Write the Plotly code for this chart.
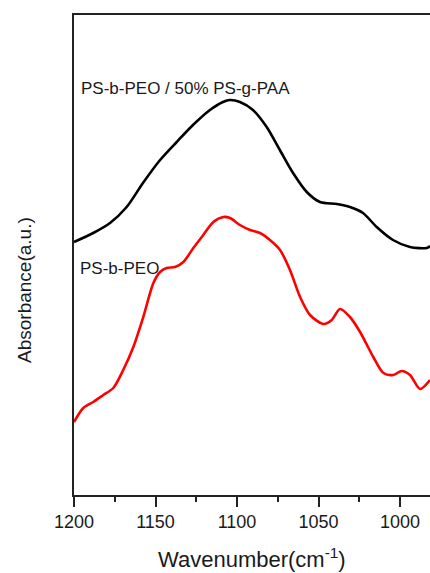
import plotly.graph_objects as go

# Wavenumber (cm^-1) and absorbance (arbitrary units)
blend_wn = [1200, 1188.2, 1177.9, 1167.7, 1157.7, 1147.2, 1137.0, 1127.0, 1116.6, 1108.6,
            1104.3, 1098.2, 1090.2, 1081.8, 1073.7, 1065.6, 1057.2, 1049.1, 1038.8, 1030.7,
            1022.7, 1014.3, 1004.3, 993.9, 983.6, 981.6]
blend_abs = [253, 262, 272, 288, 312, 335, 353, 370, 385, 393,
             395, 393, 385, 368, 345, 322, 303, 293, 291, 288,
             282, 268, 255, 248, 247, 249]

peo_wn = [1200, 1194.3, 1188.2, 1182.0, 1175.9, 1169.8, 1163.6, 1157.5, 1151.3, 1147.2,
          1143.1, 1138.0, 1132.9, 1126.8, 1120.7, 1114.5, 1108.4, 1104.3, 1098.2, 1092.0,
          1085.9, 1079.8, 1073.6, 1067.5, 1061.3, 1055.2, 1047.0, 1041.9, 1036.8, 1030.7,
          1024.5, 1016.4, 1010.2, 1004.1, 999.0, 993.9, 987.7, 981.6]
peo_abs = [73, 87, 93, 100, 107, 125, 148, 178, 212, 223,
           227, 228, 233, 247, 260, 273, 278, 277, 270, 265,
           262, 255, 245, 225, 198, 180, 171, 175, 186, 178,
           163, 138, 122, 120, 124, 120, 106, 115]

x_ticks = [1200, 1150, 1100, 1050, 1000]
labels = ["PS-b-PEO / 50% PS-g-PAA", "PS-b-PEO"]

FONT = "Liberation Sans, Arial, sans-serif"

fig = go.Figure()
fig.add_trace(go.Scatter(x=blend_wn, y=blend_abs, mode="lines",
                         line=dict(color="black", width=2.6, shape="spline", smoothing=0.8),
                         showlegend=False, hoverinfo="skip"))
fig.add_trace(go.Scatter(x=peo_wn, y=peo_abs, mode="lines",
                         line=dict(color="#ff0000", width=2.6, shape="spline", smoothing=0.8),
                         showlegend=False, hoverinfo="skip"))

fig.update_layout(
    width=430, height=573,
    margin=dict(l=74, r=0, t=15, b=78),
    paper_bgcolor="white", plot_bgcolor="white",
    font=dict(family=FONT, color="#1a1a1a"),
    xaxis=dict(range=[1200, 981.6], tickvals=x_ticks, ticktext=[str(v) for v in x_ticks],
               ticks="outside", ticklen=10, tickwidth=1.5, tickcolor="#222",
               showline=True, linecolor="#222", linewidth=1.5, mirror=True,
               showgrid=False, zeroline=False, tickfont=dict(size=18, color="#1a1a1a"),
               minor=dict(dtick=25, tick0=1175, ticks="outside", ticklen=5, tickwidth=1.5,
                          tickcolor="#222", showgrid=False)),
    yaxis=dict(range=[0, 480], showticklabels=False, ticks="",
               showline=True, linecolor="#222", linewidth=1.5, mirror=False,
               showgrid=False, zeroline=False),
    annotations=[
        dict(text="Wavenumber(cm<sup>-1</sup>)", xref="paper", yref="paper",
             x=0.5, y=-63 / 480, xanchor="center", yanchor="middle", showarrow=False,
             font=dict(size=22, family=FONT, color="#1a1a1a")),
        dict(text="Absorbance(a.u.)", xref="paper", yref="paper", textangle=-90,
             x=-50 / 356, y=205 / 480, xanchor="center", yanchor="middle", showarrow=False,
             font=dict(size=19, family=FONT, color="#1a1a1a")),
        dict(text=labels[0], xref="paper", yref="paper",
             x=5 / 356, y=(495 - 88) / 480, xanchor="left", yanchor="middle", showarrow=False,
             font=dict(size=17, family=FONT, color="#1a1a1a")),
        dict(text=labels[1], xref="paper", yref="paper",
             x=4 / 356, y=(495 - 268) / 480, xanchor="left", yanchor="middle", showarrow=False,
             font=dict(size=17, family=FONT, color="#1a1a1a")),
    ],
)

fig.write_html("out.html")
